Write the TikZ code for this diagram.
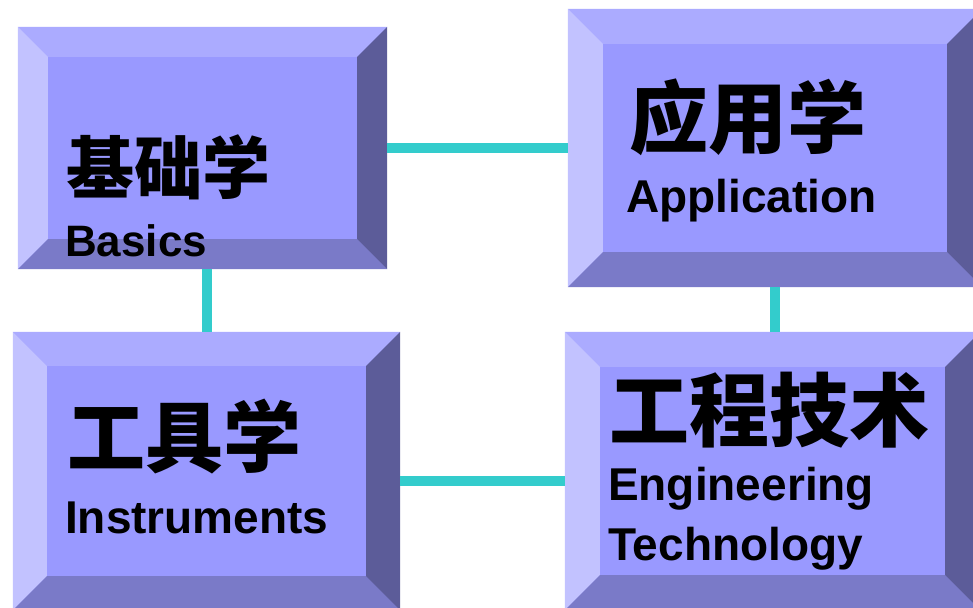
\documentclass[tikz,border=0pt]{standalone}
\usepackage{fontspec}
\setmainfont{Liberation Sans}
\newfontfamily\zhfont{Noto Sans CJK SC}
\definecolor{face}{HTML}{9999FF}
\definecolor{bvtop}{HTML}{ABABFF}
\definecolor{bvleft}{HTML}{C2C2FF}
\definecolor{bvbottom}{HTML}{7A7AC8}
\definecolor{bvright}{HTML}{5C5C99}
\definecolor{linkcol}{HTML}{33CCCC}
\tikzset{
  panel/.style={fill=face, inner sep=0pt},
  link/.style={draw=linkcol, line width=10pt},
  zh/.style={inner sep=0pt, font=\zhfont\bfseries\fontsize{#1}{#1}\selectfont},
  en/.style={inner sep=0pt, anchor=base west, font=\bfseries\fontsize{#1}{#1}\selectfont},
}
% bevel round a panel: name, width
\newcommand{\bevel}[2]{%
  \fill[bvtop] (#1.north west) -- (#1.north east) -- ([xshift=-#2pt,yshift=-#2pt]#1.north east) -- ([xshift=#2pt,yshift=-#2pt]#1.north west) -- cycle;
  \fill[bvleft] (#1.north west) -- (#1.south west) -- ([xshift=#2pt,yshift=#2pt]#1.south west) -- ([xshift=#2pt,yshift=-#2pt]#1.north west) -- cycle;
  \fill[bvbottom] (#1.south west) -- (#1.south east) -- ([xshift=-#2pt,yshift=#2pt]#1.south east) -- ([xshift=#2pt,yshift=#2pt]#1.south west) -- cycle;
  \fill[bvright] (#1.north east) -- (#1.south east) -- ([xshift=-#2pt,yshift=#2pt]#1.south east) -- ([xshift=-#2pt,yshift=-#2pt]#1.north east) -- cycle;
}
\begin{document}
\begin{tikzpicture}[x=1pt,y=-1pt]
  \useasboundingbox (0,0) rectangle (973,607);
  \clip (0,0) rectangle (973,607);
  % panels
  \node[panel, minimum width=369pt, minimum height=242pt] (basics) at (202.5,148) {};
  \node[panel, minimum width=414pt, minimum height=278pt] (appl) at (775,148) {};
  \node[panel, minimum width=387pt, minimum height=278pt] (instr) at (206.5,471) {};
  \node[panel, minimum width=415pt, minimum height=278pt] (engr) at (772.5,471) {};
  \bevel{basics}{30}
  \bevel{appl}{35}
  \bevel{instr}{34}
  \bevel{engr}{35}
  % links
  \draw[link] (basics.east) -- (appl.west);
  \draw[link] (instr.north) -- (instr.north |- basics.south);
  \draw[link] (appl.south) -- (appl.south |- engr.north);
  \draw[link] ([yshift=-10pt]instr.east) -- ([yshift=-10pt]instr.east -| engr.west);
  % labels
  \node[zh=68] (basicszh) at (168,167.5) {基础学};
  \node[en=44] (basicsen) at (65,256) {Basics};
  \node[zh=79] (applzh) at (748,117) {应用学};
  \node[en=46] (applen) at (626,212) {Application};
  \node[zh=78] (instrzh) at (184,437) {工具学};
  \node[en=46] (instren) at (65,533) {Instruments};
  \node[zh=80] (engrzh) at (769,410) {工程技术};
  \node[en=46] (engren) at (608,500) {Engineering};
  \node[en=46] (engrtech) at (608,560) {Technology};
\end{tikzpicture}
\end{document}
